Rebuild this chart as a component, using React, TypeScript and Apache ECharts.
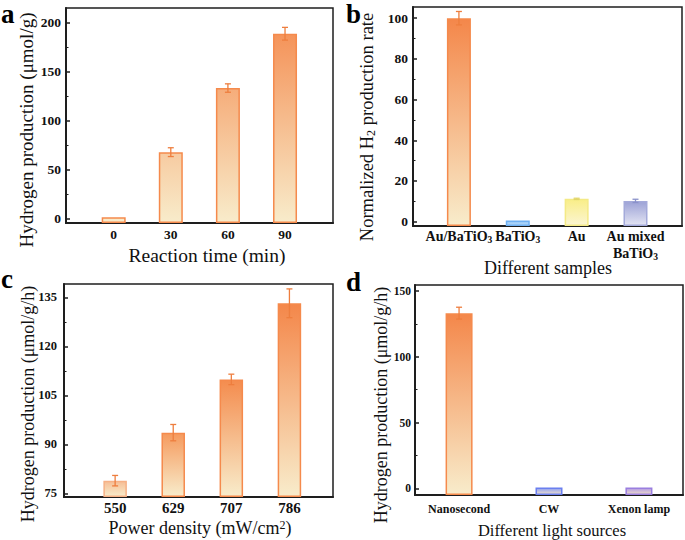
import React, { useEffect, useRef } from 'react';
import * as echarts from 'echarts';

// ---------- data ----------
const aCategories = ['0', '30', '60', '90'];
const aValues = [1.5, 68, 133.5, 189];
const aErrors = [0, 4.5, 4.3, 6.5];
const aTicks = [0, 50, 100, 150, 200];
const aMinorTicks = [25, 75, 125, 175];

const bCategories = ['Au/BaTiO{sub|3}', 'BaTiO{sub|3}', 'Au', 'Au mixed\nBaTiO{sub|3}'];
const bValues = [100, 0.5, 11.2, 10.2];
const bErrors = [3.3, 0, 0.3, 0.8];
const bTicks = [0, 20, 40, 60, 80, 100];
const bMinorTicks = [10, 30, 50, 70, 90];

const cCategories = ['550', '629', '707', '786'];
const cValues = [78.9, 93.6, 109.9, 133.2];
const cErrors = [1.6, 2.5, 1.6, 4.4];
const cTicks = [75, 90, 105, 120, 135];
const cMinorTicks = [82.5, 97.5, 112.5, 127.5];

const dCategories = ['Nanosecond', 'CW', 'Xenon lamp'];
const dValues = [133.2, 0.6, 0.6];
const dErrors = [4.5, 0, 0];
const dTicks = [0, 50, 100, 150];
const dMinorTicks = [25, 75, 125];

// ---------- styles ----------
const SERIF = '"Liberation Serif", "Times New Roman", serif';
const FRAME = '#1e1e1e';
const ORANGE_TOP = '#F4874A';
const CREAM = '#F8ECCB';
const ORANGE_EDGE = '#F58A4C';
const ERR_ORANGE = '#EE7E3E';

const grad = (top: string, bottom: string) =>
  new echarts.graphic.LinearGradient(0, 0, 0, 1, [
    { offset: 0, color: top },
    { offset: 1, color: bottom },
  ]);

const panels = [
  {
    grid: { left: 66, top: 8, width: 267, height: 215 },
    xMin: -0.835, xMax: 3.84, yMin: -4.4, yMax: 215.3,
    cats: aCategories, values: aValues, errors: aErrors, ticks: aTicks, minor: aMinorTicks,
    barWidth: 24, xFont: 13.5, yFont: 13.5, xMargin: 4, yMargin: 5, lineHeight: 14,
    fills: aValues.map(() =>
      new echarts.graphic.LinearGradient(0, 8, 0, 223, [
        { offset: 0, color: ORANGE_TOP },
        { offset: 1, color: CREAM },
      ], true)
    ),
    edges: aValues.map(() => ORANGE_EDGE),
    errColors: aValues.map(() => ERR_ORANGE),
  },
  {
    grid: { left: 413, top: 7, width: 269, height: 219 },
    xMin: -0.78, xMax: 3.79, yMin: -2.15, yMax: 105.5,
    cats: bCategories, values: bValues, errors: bErrors, ticks: bTicks, minor: bMinorTicks,
    barWidth: 24, xFont: 14, yFont: 13.5, xMargin: 2, yMargin: 5, lineHeight: 17,
    fills: [grad(ORANGE_TOP, CREAM), grad('#94C6F6', '#B8DBFA'), grad('#F9EE88', '#FBF5D2'), grad('#9CA2D6', '#E3E4F3')],
    edges: [ORANGE_EDGE, '#6FB0F2', '#F4EA86', '#A4AADA'],
    errColors: [ERR_ORANGE, '#6FB0F2', '#E2D66A', '#8A92CA'],
  },
  {
    grid: { left: 64, top: 284, width: 269, height: 213 },
    xMin: -0.88, xMax: 3.75, yMin: 73.9, yMax: 139.1,
    cats: cCategories, values: cValues, errors: cErrors, ticks: cTicks, minor: cMinorTicks,
    barWidth: 23.5, xFont: 15, yFont: 12.5, xMargin: 3, yMargin: 7, lineHeight: 15,
    fills: [grad('#F6BE95', CREAM), grad('#F59A5E', CREAM), grad('#F48C4E', CREAM), grad(ORANGE_TOP, CREAM)],
    edges: ['#F6B186', ORANGE_EDGE, ORANGE_EDGE, ORANGE_EDGE],
    errColors: cValues.map(() => ERR_ORANGE),
  },
  {
    grid: { left: 415, top: 285, width: 268, height: 210 },
    xMin: -0.49, xMax: 2.49, yMin: -5.1, yMax: 154.6,
    cats: dCategories, values: dValues, errors: dErrors, ticks: dTicks, minor: dMinorTicks,
    barWidth: 27, xFont: 12, yFont: 11.5, xMargin: 7, yMargin: 4, lineHeight: 13,
    fills: [grad(ORANGE_TOP, CREAM), grad('#8FA0F3', '#EFE0CC'), grad('#B29AE6', '#EEDDC9')],
    edges: [ORANGE_EDGE, '#6A7FEF', '#9A7EDF'],
    errColors: dValues.map(() => ERR_ORANGE),
  },
];

const richLabel = (size: number) => ({
  sub: { fontFamily: SERIF, fontWeight: 'bold', fontSize: size * 0.68, verticalAlign: 'bottom', lineHeight: 10, color: '#111' },
});

function buildOption() {
  const grid: any[] = [];
  const xAxis: any[] = [];
  const yAxis: any[] = [];
  const series: any[] = [];

  panels.forEach((p, i) => {
    grid.push({
      ...p.grid,
      show: true,
      borderColor: FRAME,
      borderWidth: 1.5,
      backgroundColor: 'transparent',
      containLabel: false,
      outerBoundsMode: 'none',
    });
    xAxis.push({
      gridIndex: i,
      type: 'value',
      min: p.xMin,
      max: p.xMax,
      splitLine: { show: false },
      axisLine: { show: true, onZero: false, lineStyle: { color: FRAME, width: 2 } },
      axisTick: { show: true, inside: true, length: 4, customValues: p.cats.map((_, k) => k), lineStyle: { color: FRAME, width: 1.5 } },
      axisLabel: {
        show: true,
        customValues: p.cats.map((_, k) => k),
        formatter: (v: number) => p.cats[Math.round(v)] ?? '',
        fontFamily: SERIF,
        fontWeight: 'bold',
        fontSize: p.xFont,
        color: '#111',
        margin: p.xMargin,
        lineHeight: p.lineHeight,
        rich: richLabel(p.xFont),
      },
    });
    yAxis.push({
      gridIndex: i,
      type: 'value',
      position: 'left',
      min: p.yMin,
      max: p.yMax,
      startValue: p.yMin,
      splitLine: { show: false },
      axisLine: { show: true, onZero: false, lineStyle: { color: FRAME, width: 2 } },
      axisTick: { show: true, inside: true, length: 4, customValues: p.ticks, lineStyle: { color: FRAME, width: 1.5 } },
      axisLabel: {
        show: true,
        customValues: p.ticks,
        fontFamily: SERIF,
        fontWeight: 'bold',
        fontSize: p.yFont,
        color: '#111',
        margin: p.yMargin,
      },
    });
    yAxis.push({
      gridIndex: i,
      type: 'value',
      position: 'left',
      offset: 0,
      min: p.yMin,
      max: p.yMax,
      splitLine: { show: false },
      axisLine: { show: false, onZero: false },
      axisTick: { show: true, inside: true, length: 2.5, customValues: p.minor, lineStyle: { color: FRAME, width: 1 } },
      axisLabel: { show: false },
    });

    series.push({
      type: 'bar',
      xAxisIndex: i,
      yAxisIndex: 2 * i,
      barWidth: p.barWidth,
      data: p.values.map((v, k) => ({
        value: [k, v],
        itemStyle: { color: p.fills[k], borderColor: p.edges[k], borderWidth: 1.5 },
      })),
    });

    const errData = p.values
      .map((v, k) => [k, v - p.errors[k], v + p.errors[k], k])
      .filter((d, k) => p.errors[k] > 0);
    series.push({
      type: 'custom',
      xAxisIndex: i,
      yAxisIndex: 2 * i,
      z: 5,
      data: errData,
      renderItem: (params: any, api: any) => {
        const x = api.value(0);
        const lo = api.value(1);
        const hi = api.value(2);
        const k = api.value(3);
        const top = api.coord([x, hi]);
        const bot = api.coord([x, lo]);
        const w = 3;
        const style = { stroke: p.errColors[k], lineWidth: 1.3 };
        return {
          type: 'group',
          children: [
            { type: 'line', shape: { x1: top[0], y1: top[1], x2: bot[0], y2: bot[1] }, style },
            { type: 'line', shape: { x1: top[0] - w, y1: top[1], x2: top[0] + w, y2: top[1] }, style },
            { type: 'line', shape: { x1: bot[0] - w, y1: bot[1], x2: bot[0] + w, y2: bot[1] }, style },
          ],
        };
      },
    });
  });

  const titleStyle = (size: number) => ({
    font: `${size}px ${SERIF}`,
    fill: '#111',
    textAlign: 'center',
    textVerticalAlign: 'middle',
  });
  const letter = (t: string, x: number, y: number) => ({
    type: 'text',
    x,
    y,
    style: { text: t, font: `bold 27px ${SERIF}`, fill: '#000', textAlign: 'left', textVerticalAlign: 'top' },
  });
  const vTitle = (t: string, x: number, y: number, size: number, rich?: any) => ({
    type: 'text',
    x,
    y,
    rotation: Math.PI / 2,
    style: { text: t, ...titleStyle(size), rich },
  });
  const hTitle = (t: string, x: number, y: number, size: number, rich?: any) => ({
    type: 'text',
    x,
    y,
    style: { text: t, ...titleStyle(size), rich },
  });

  const graphic = [
    letter('a', 1, 0),
    letter('b', 346, 0),
    letter('c', 1, 265),
    letter('d', 346, 268),
    vTitle('Hydrogen production (μmol/g)', 26, 130, 19),
    vTitle('Normalized H{sub|2} production rate', 367, 127, 18.5, {
      sub: { fontFamily: SERIF, fontSize: 12, verticalAlign: 'bottom', lineHeight: 12, fill: '#111' },
    }),
    vTitle('Hydrogen production (μmol/g/h)', 28, 404, 18),
    vTitle('Hydrogen production (μmol/g/h)', 381, 405, 18),
    hTitle('Reaction time (min)', 207, 255, 19.5),
    hTitle('Different samples', 548, 268, 18),
    hTitle('Power density (mW/cm{sup|2})', 200, 528, 18, {
      sup: { fontFamily: SERIF, fontSize: 12, verticalAlign: 'top', lineHeight: 12, fill: '#111' },
    }),
    hTitle('Different light sources', 552, 530, 16.5),
  ];

  return {
    animation: false,
    backgroundColor: '#ffffff',
    grid,
    xAxis,
    yAxis,
    series,
    graphic,
  };
}

export default function App() {
  const ref = useRef<HTMLDivElement>(null);
  useEffect(() => {
    document.body.style.margin = '0';
    if (!ref.current) return;
    const chart = echarts.init(ref.current, null, { renderer: 'svg' });
    chart.setOption(buildOption() as any);
    return () => chart.dispose();
  }, []);
  return <div ref={ref} style={{ width: 685, height: 540 }} />;
}
